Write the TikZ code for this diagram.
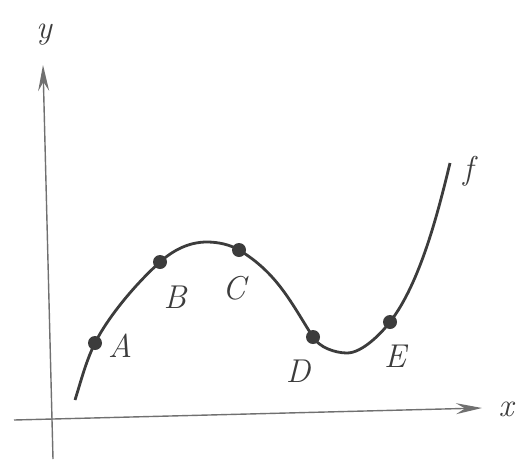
\documentclass[tikz,border=0pt]{standalone}
\usetikzlibrary{arrows.meta}
\definecolor{ink}{HTML}{3C3C3C}
\definecolor{axisgray}{HTML}{707070}
\begin{document}
\begin{tikzpicture}[x=1pt,y=1pt,
  axis/.style={draw=axisgray, line width=1.4pt, -{Stealth[length=26pt,width=11pt,inset=9pt]}},
  curve/.style={draw=ink, line width=2.8pt},
  dot/.style={circle, fill=ink, inner sep=0pt, minimum size=14pt},
  lab/.style={font=\fontsize{33}{38}\selectfont\itshape, text=ink, inner sep=0pt}]
\useasboundingbox (0,0) rectangle (518,459);
% axes
\coordinate (ybot) at (53,0);
\coordinate (ytop) at (43,394);
\coordinate (xleft) at (14,39);
\coordinate (xright) at (482,51);
\draw[axis] (ybot) -- (ytop);
\draw[axis] (xleft) -- (xright);
\node[lab] (ylab) at (44,424) {y};
\node[lab] (xlab) at (506,50) {x};
% curve
\coordinate (s) at (75,59);
\coordinate (A) at (95,116);
\coordinate (B) at (160,197);
\coordinate (M) at (207,217);
\coordinate (C) at (239,209);
\coordinate (D) at (313,122);
\coordinate (N) at (347,106);
\coordinate (E) at (390,137);
\coordinate (e) at (450,296);
\draw[curve] (s) .. controls (81,78) and (86,98) .. (A)
  .. controls (107.5,141) and (134,173.6) .. (B)
  .. controls (173.4,209) and (189,217) .. (M)
  .. controls (218,217) and (230,214.4) .. (C)
  .. controls (277.6,185.9) and (291.8,155) .. (D)
  .. controls (319.1,111.7) and (335,106) .. (N)
  .. controls (362,106) and (380.9,125.2) .. (E)
  .. controls (420.5,176.5) and (438.2,247.4) .. (e);
\node[dot] (dA) at (A) {};
\node[dot] (dB) at (B) {};
\node[dot] (dC) at (C) {};
\node[dot] (dD) at (D) {};
\node[dot] (dE) at (E) {};
\node[lab] (lA) at (120,113) {A};
\node[lab] (lB) at (175,162) {B};
\node[lab] (lC) at (234,171) {C};
\node[lab] (lD) at (298,88) {D};
\node[lab] (lE) at (395,103) {E};
\node[lab] (lf) at (468,288) {f};
\end{tikzpicture}
\end{document}
